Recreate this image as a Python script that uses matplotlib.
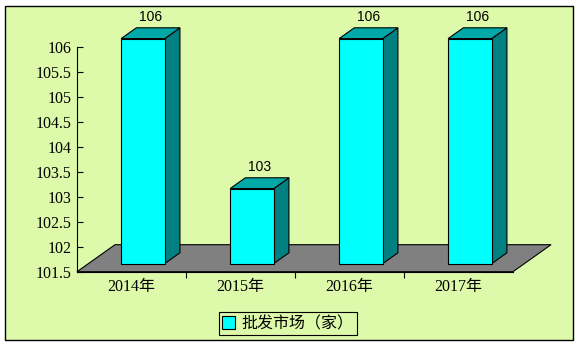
import matplotlib
matplotlib.use('Agg')
import matplotlib.pyplot as plt
from matplotlib.patches import Polygon, Rectangle, Patch

# 数据
years = ['2014年', '2015年', '2016年', '2017年']
values = [106, 103, 106, 106]
series_name = '批发市场（家）'
y_ticks = [101.5, 102, 102.5, 103, 103.5, 104, 104.5, 105, 105.5, 106]
y_tick_labels = ['101.5', '102', '102.5', '103', '103.5', '104', '104.5', '105', '105.5', '106']

bg = '#DDFAAA'
front_c = '#00FFFF'
side_c = '#008080'
top_c = '#00A8A8'
floor_c = '#808080'

ymin, ymax = 101.5, 106
DX, DY = 0.349, 0.54      # 整个"地板"的深度偏移（数据单位）
f0, f1 = 0.3, 0.7         # 柱子前后面所在深度
bw = 0.4

cjk = ['Liberation Serif', 'Noto Sans CJK SC']

fig = plt.figure(figsize=(5.8, 3.46), dpi=100, facecolor='white')
fig.patches.append(Rectangle((5 / 580, 6 / 346), 568 / 580, 334 / 346,
                             transform=fig.transFigure, facecolor=bg,
                             edgecolor='black', linewidth=1.0, zorder=-5))

ax = fig.add_axes([77 / 580, (346 - 271.7) / 346, 436 / 580, 225 / 346])
ax.set_facecolor('none')
ax.set_xlim(0, 4)
ax.set_ylim(ymin, ymax)

# 地板
floor = Polygon([(0, ymin), (4, ymin), (4 + DX, ymin + DY), (DX, ymin + DY)],
                closed=True, facecolor=floor_c, edgecolor='black',
                linewidth=0.8, clip_on=False, zorder=1)
ax.add_patch(floor)

for i, v in enumerate(values):
    xc = i + 0.5
    xl = xc - bw / 2 + f0 * DX
    xr = xc + bw / 2 + f0 * DX
    yb = ymin + f0 * DY
    yt = v + f0 * DY
    ddx = (f1 - f0) * DX
    ddy = (f1 - f0) * DY
    side = Polygon([(xr, yb), (xr + ddx, yb + ddy), (xr + ddx, yt + ddy), (xr, yt)],
                   facecolor=side_c, edgecolor='black', linewidth=0.8,
                   clip_on=False, zorder=2)
    top = Polygon([(xl, yt), (xr, yt), (xr + ddx, yt + ddy), (xl + ddx, yt + ddy)],
                  facecolor=top_c, edgecolor='black', linewidth=0.8,
                  clip_on=False, zorder=2)
    ax.add_patch(side)
    ax.add_patch(top)
    ax.bar(xc + f0 * DX, v - ymin, bottom=yb, width=bw, color=front_c,
           edgecolor='black', linewidth=0.8, clip_on=False, zorder=3)
    ax.annotate(str(v), (xc + (f0 + f1) / 2 * DX, v + f1 * DY),
                xytext=(0, 3), textcoords='offset points', ha='center',
                va='bottom', fontsize=10, family=['Liberation Sans'],
                annotation_clip=False)

for s in ['top', 'right']:
    ax.spines[s].set_visible(False)
for s in ['left', 'bottom']:
    ax.spines[s].set_linewidth(0.8)
    ax.spines[s].set_zorder(4)

ax.set_yticks(y_ticks)
ax.set_yticklabels(y_tick_labels, family=cjk, fontsize=11.5)
ax.tick_params(axis='y', direction='in', length=4, width=0.8, pad=4)

ax.set_xticks([0.5, 1.5, 2.5, 3.5])
ax.set_xticklabels(years, family=cjk, fontsize=11.5)
ax.set_xticks([1, 2, 3], minor=True)
ax.tick_params(axis='x', which='major', length=0, pad=5)
ax.tick_params(axis='x', which='minor', direction='out', length=4, width=0.8)

handle = Patch(facecolor=front_c, edgecolor='black', linewidth=0.8)
leg = fig.legend([handle], [series_name], loc='center',
                 bbox_to_anchor=(288 / 580, (346 - 323.5) / 346),
                 prop={'family': ['Noto Sans CJK SC'], 'size': 11.5},
                 frameon=True, fancybox=False, edgecolor='black',
                 facecolor=bg, framealpha=1, handlelength=0.8,
                 handleheight=0.8, handletextpad=0.4, borderpad=0.2,
                 borderaxespad=0)
leg.get_frame().set_linewidth(0.8)

fig.savefig('out.png', dpi=100, facecolor='white')
